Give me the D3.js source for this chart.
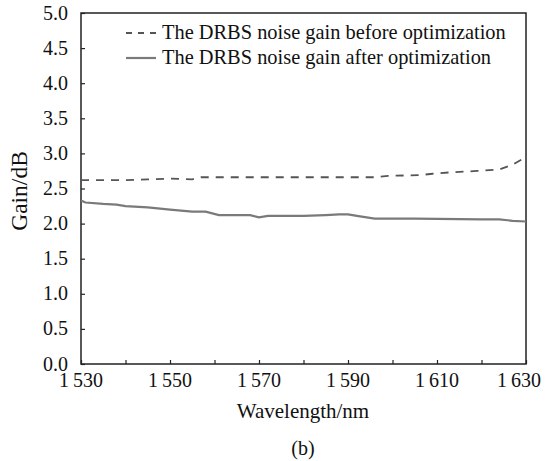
<!DOCTYPE html>
<html><head><meta charset="utf-8">
<script src="https://cdn.jsdelivr.net/npm/d3@7"></script>
<style>body{margin:0;background:#fff}svg{display:block}text{font-family:"Liberation Serif","Times New Roman",serif;fill:#111}</style>
</head><body>
<svg id="c" width="545" height="461"></svg>
<script>
const beforeX = [1530,1535,1540,1545,1550,1555,1557,1565,1570,1580,1590,1596,1599,1606,1609,1613,1616,1619,1624,1627,1630];
const beforeY = [2.62,2.62,2.62,2.63,2.64,2.63,2.66,2.66,2.66,2.66,2.66,2.66,2.68,2.69,2.71,2.73,2.74,2.75,2.77,2.84,2.95];
const afterX = [1530,1531,1535,1538,1540,1545,1550,1555,1558,1561,1565,1568,1570,1572,1580,1585,1588,1590,1592,1596,1605,1620,1624,1627,1630];
const afterY = [2.33,2.30,2.28,2.27,2.25,2.23,2.20,2.17,2.17,2.12,2.12,2.12,2.09,2.11,2.11,2.12,2.13,2.13,2.11,2.07,2.07,2.06,2.06,2.04,2.03];
const xTicks = [1530,1540,1550,1560,1570,1580,1590,1600,1610,1620,1630];
const xLabels = [1530,1550,1570,1590,1610,1630];
const yTicks = [0,0.5,1,1.5,2,2.5,3,3.5,4,4.5,5];
const legendLabels = ["The DRBS noise gain before optimization","The DRBS noise gain after optimization"];

const svg = d3.select("#c");
const L=81,R=526,T=13,B=364;
const x = d3.scaleLinear().domain([1530,1630]).range([L,R]);
const y = d3.scaleLinear().domain([0,5]).range([B,T]);
const fmtX = d => { const s=String(d); return s[0]+"\u2009"+s.slice(1); };

// frame
svg.append("rect").attr("x",L).attr("y",T).attr("width",R-L).attr("height",B-T)
  .attr("fill","none").attr("stroke","#222").attr("stroke-width",1.5);

// x axis
const xa = svg.append("g").attr("transform",`translate(0,${B})`)
  .call(d3.axisBottom(x).tickValues(xTicks).tickSizeInner(-4).tickSizeOuter(0).tickFormat(""));
xa.select(".domain").remove();
xa.selectAll("line").attr("stroke","#222").attr("stroke-width",1.2);
svg.append("g").selectAll("text").data(xLabels).join("text")
  .attr("x",d=> d===1630 ? 541 : x(d)).attr("y",B+23)
  .attr("text-anchor",d=> d===1630 ? "end" : "middle").attr("font-size",20)
  .text(fmtX);

// y axis
const ya = svg.append("g").attr("transform",`translate(${L},0)`)
  .call(d3.axisLeft(y).tickValues(yTicks).tickSizeInner(-4).tickSizeOuter(0).tickFormat(""));
ya.select(".domain").remove();
ya.selectAll("line").attr("stroke","#222").attr("stroke-width",1.2);
svg.append("g").selectAll("text").data(yTicks).join("text")
  .attr("x",68).attr("y",d=>y(d)+6.5).attr("text-anchor","end").attr("font-size",20)
  .text(d=>d.toFixed(1));

// axis titles
svg.append("text").attr("x",303).attr("y",418).attr("text-anchor","middle").attr("font-size",21).text("Wavelength/nm");
svg.append("text").attr("transform","translate(27,191) rotate(-90)").attr("text-anchor","middle").attr("font-size",23.5).text("Gain/dB");
svg.append("text").attr("x",303).attr("y",455).attr("text-anchor","middle").attr("font-size",20).text("(b)");

// lines
const line = d3.line().x(d=>x(d[0])).y(d=>y(d[1]));
svg.append("path").datum(beforeX.map((v,i)=>[v,beforeY[i]])).attr("d",line)
  .attr("fill","none").attr("stroke","#555").attr("stroke-width",1.8).attr("stroke-dasharray","8,7");
svg.append("path").datum(afterX.map((v,i)=>[v,afterY[i]])).attr("d",line)
  .attr("fill","none").attr("stroke","#7a7a7a").attr("stroke-width",2.2);

// legend
const lg = svg.append("g");
lg.append("line").attr("x1",126).attr("x2",156).attr("y1",33).attr("y2",33)
  .attr("stroke","#555").attr("stroke-width",1.8).attr("stroke-dasharray","6,6");
lg.append("line").attr("x1",126).attr("x2",156).attr("y1",58).attr("y2",58)
  .attr("stroke","#7a7a7a").attr("stroke-width",2.2);
lg.selectAll("text").data(legendLabels).join("text")
  .attr("x",162).attr("y",(d,i)=>39+i*25).attr("font-size",20.4).text(d=>d);
</script>
</body></html>
